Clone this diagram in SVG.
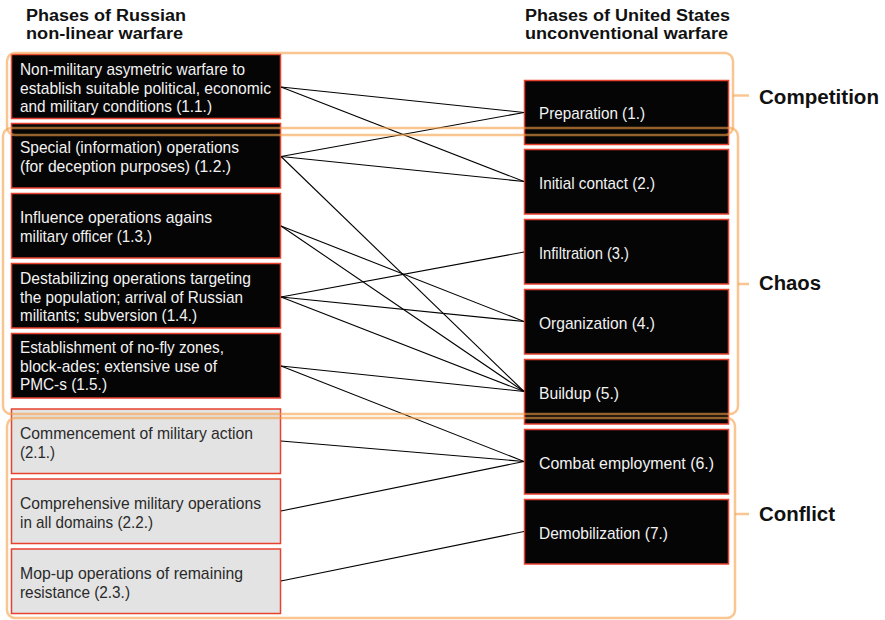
<svg xmlns="http://www.w3.org/2000/svg" width="885" height="620" viewBox="0 0 885 620">
<style>
.dark{fill:#050505;stroke:#e8412f;stroke-width:1.5}
.light{fill:#e3e3e3;stroke:#e8412f;stroke-width:1.5}
.t{font-family:"Liberation Sans",Arial,sans-serif;font-size:17px;fill:#f2f2f2}
.tl{font-family:"Liberation Sans",Arial,sans-serif;font-size:17px;fill:#2a2a2a}
.h{font-family:"Liberation Sans",Arial,sans-serif;font-size:16px;font-weight:bold;fill:#111}
.p{font-family:"Liberation Sans",Arial,sans-serif;font-size:20px;font-weight:bold;fill:#111}
.br{fill:none;stroke:#f5a04a;stroke-opacity:0.6;stroke-width:2.5}
#connectors line{stroke:#000;stroke-width:1.1}
</style>
<rect width="885" height="620" fill="#fff"/>
<g id="headers">
<text class="h" x="26" y="21" textLength="160" lengthAdjust="spacingAndGlyphs">Phases of Russian</text>
<text class="h" x="26" y="38.5" textLength="157" lengthAdjust="spacingAndGlyphs">non-linear warfare</text>
<text class="h" x="525" y="21" textLength="205" lengthAdjust="spacingAndGlyphs">Phases of United States</text>
<text class="h" x="525" y="38.5" textLength="203" lengthAdjust="spacingAndGlyphs">unconventional warfare</text>
</g>
<g id="r11"><rect class="dark" x="11.5" y="54.5" width="269" height="64"/>
<text class="t" x="20" y="75" textLength="225" lengthAdjust="spacingAndGlyphs">Non-military asymetric warfare to</text>
<text class="t" x="20" y="93.5" textLength="251" lengthAdjust="spacingAndGlyphs">establish suitable political, economic</text>
<text class="t" x="20" y="112" textLength="192" lengthAdjust="spacingAndGlyphs">and military conditions (1.1.)</text></g>
<g id="r12"><rect class="dark" x="11.5" y="123.5" width="269" height="64.5"/>
<text class="t" x="20" y="153" textLength="219" lengthAdjust="spacingAndGlyphs">Special (information) operations</text>
<text class="t" x="20" y="171.5" textLength="211" lengthAdjust="spacingAndGlyphs">(for deception purposes) (1.2.)</text></g>
<g id="r13"><rect class="dark" x="11.5" y="193.5" width="269" height="64.5"/>
<text class="t" x="20" y="223" textLength="192" lengthAdjust="spacingAndGlyphs">Influence operations agains</text>
<text class="t" x="20" y="241.5" textLength="132" lengthAdjust="spacingAndGlyphs">military officer (1.3.)</text></g>
<g id="r14"><rect class="dark" x="11.5" y="263.5" width="269" height="64.5"/>
<text class="t" x="20" y="284" textLength="231" lengthAdjust="spacingAndGlyphs">Destabilizing operations targeting</text>
<text class="t" x="20" y="302.5" textLength="223" lengthAdjust="spacingAndGlyphs">the population; arrival of Russian</text>
<text class="t" x="20" y="321" textLength="177" lengthAdjust="spacingAndGlyphs">militants; subversion (1.4.)</text></g>
<g id="r15"><rect class="dark" x="11.5" y="333.5" width="269" height="64.5"/>
<text class="t" x="20" y="353" textLength="204" lengthAdjust="spacingAndGlyphs">Establishment of no-fly zones,</text>
<text class="t" x="20" y="371.5" textLength="197" lengthAdjust="spacingAndGlyphs">block-ades; extensive use of</text>
<text class="t" x="20" y="390" textLength="87" lengthAdjust="spacingAndGlyphs">PMC-s (1.5.)</text></g>
<g id="r21"><rect class="light" x="11.5" y="409" width="269" height="64.5"/>
<text class="tl" x="20" y="439" textLength="233" lengthAdjust="spacingAndGlyphs">Commencement of military action</text>
<text class="tl" x="20" y="457.5" textLength="35" lengthAdjust="spacingAndGlyphs">(2.1.)</text></g>
<g id="r22"><rect class="light" x="11.5" y="479" width="269" height="64.5"/>
<text class="tl" x="20" y="509" textLength="241" lengthAdjust="spacingAndGlyphs">Comprehensive military operations</text>
<text class="tl" x="20" y="527.5" textLength="133" lengthAdjust="spacingAndGlyphs">in all domains (2.2.)</text></g>
<g id="r23"><rect class="light" x="11.5" y="549" width="269" height="64.5"/>
<text class="tl" x="20" y="579" textLength="223" lengthAdjust="spacingAndGlyphs">Mop-up operations of remaining</text>
<text class="tl" x="20" y="597.5" textLength="110" lengthAdjust="spacingAndGlyphs">resistance (2.3.)</text></g>
<g id="u1"><rect class="dark" x="524.5" y="80.5" width="204" height="64"/>
<text class="t" x="539" y="119" textLength="106" lengthAdjust="spacingAndGlyphs">Preparation (1.)</text></g>
<g id="u2"><rect class="dark" x="524.5" y="149.5" width="204" height="64.5"/>
<text class="t" x="539" y="188.5" textLength="116" lengthAdjust="spacingAndGlyphs">Initial contact (2.)</text></g>
<g id="u3"><rect class="dark" x="524.5" y="219.5" width="204" height="64.5"/>
<text class="t" x="539" y="259" textLength="90" lengthAdjust="spacingAndGlyphs">Infiltration (3.)</text></g>
<g id="u4"><rect class="dark" x="524.5" y="289.5" width="204" height="64.5"/>
<text class="t" x="539" y="329" textLength="116" lengthAdjust="spacingAndGlyphs">Organization (4.)</text></g>
<g id="u5"><rect class="dark" x="524.5" y="359.5" width="204" height="64.5"/>
<text class="t" x="539" y="399" textLength="80" lengthAdjust="spacingAndGlyphs">Buildup (5.)</text></g>
<g id="u6"><rect class="dark" x="524.5" y="429.5" width="204" height="64.5"/>
<text class="t" x="539" y="469" textLength="175" lengthAdjust="spacingAndGlyphs">Combat employment (6.)</text></g>
<g id="u7"><rect class="dark" x="524.5" y="499.5" width="204" height="64.5"/>
<text class="t" x="539" y="539" textLength="129" lengthAdjust="spacingAndGlyphs">Demobilization (7.)</text></g>
<g id="connectors">
<line x1="281" y1="87" x2="524" y2="112.5"/>
<line x1="281" y1="87" x2="524" y2="181.5"/>
<line x1="281" y1="156.5" x2="524" y2="112.5"/>
<line x1="281" y1="156.5" x2="524" y2="181.5"/>
<line x1="281" y1="156.5" x2="524" y2="391.5"/>
<line x1="281" y1="226" x2="524" y2="321.5"/>
<line x1="281" y1="226" x2="524" y2="391.5"/>
<line x1="281" y1="297" x2="524" y2="252"/>
<line x1="281" y1="297" x2="524" y2="321.5"/>
<line x1="281" y1="297" x2="524" y2="391.5"/>
<line x1="281" y1="366" x2="524" y2="391.5"/>
<line x1="281" y1="366" x2="524" y2="461.5"/>
<line x1="281" y1="441" x2="524" y2="461.5"/>
<line x1="281" y1="511" x2="524" y2="461.5"/>
<line x1="281" y1="581" x2="524" y2="531.5"/>
</g>
<g id="competition">
<rect class="br" x="7" y="53" width="726" height="82" rx="8"/>
<line class="br" x1="733" y1="95.5" x2="749" y2="95.5"/>
<text class="p" x="759" y="104" textLength="120" lengthAdjust="spacingAndGlyphs">Competition</text>
</g>
<g id="chaos">
<rect class="br" x="3" y="128" width="735" height="286" rx="8"/>
<line class="br" x1="738" y1="284" x2="749" y2="284"/>
<text class="p" x="759" y="290" textLength="62" lengthAdjust="spacingAndGlyphs">Chaos</text>
</g>
<g id="conflict">
<rect class="br" x="7" y="418" width="728" height="200" rx="8"/>
<line class="br" x1="735" y1="514" x2="749" y2="514"/>
<text class="p" x="759" y="521" textLength="76" lengthAdjust="spacingAndGlyphs">Conflict</text>
</g>
</svg>
